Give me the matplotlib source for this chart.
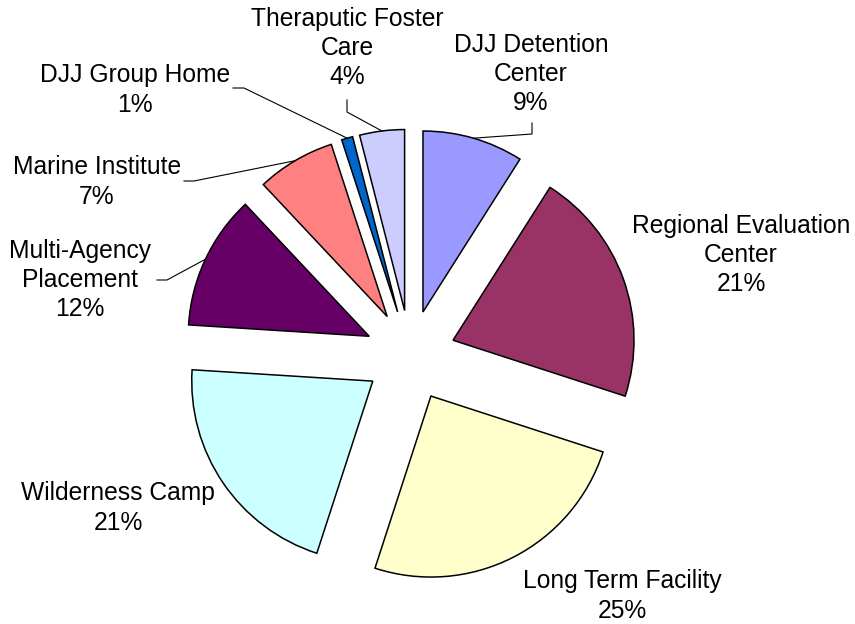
import matplotlib
matplotlib.use("Agg")
import matplotlib.pyplot as plt
import numpy as np

categories = ["DJJ Detention\nCenter", "Regional Evaluation\nCenter", "Long Term Facility",
              "Wilderness Camp", "Multi-Agency\nPlacement", "Marine Institute",
              "DJJ Group Home", "Theraputic Foster\nCare"]
values = [9, 21, 25, 21, 12, 7, 1, 4]
colors = ["#9999FF", "#993366", "#FFFFCC", "#CCFFFF", "#660066", "#FF8080", "#0066CC", "#CCCCFF"]

W, H = 855, 624
CX, CY, R = 410.3, 355.6, 181
EXPL = 45.4 / 181

plt.rcParams['font.family'] = ['Liberation Sans', 'DejaVu Sans']
fig = plt.figure(figsize=(W / 100, H / 100), dpi=100)
ax = fig.add_axes([0, 0, 1, 1])

wedges, _ = ax.pie(values, colors=colors, startangle=90, counterclock=False,
                   explode=[EXPL] * len(values), radius=1,
                   wedgeprops=dict(edgecolor='black', linewidth=1.1))
ax.set_aspect('auto')
ax.set_xlim(-CX / R, (W - CX) / R)
ax.set_ylim(-(H - CY) / R, CY / R)
ax.axis('off')

def P(x, y):
    return ((x - CX) / R, (CY - y) / R)

total = sum(values)
mids = []
a = 90.0
for v in values:
    span = 360.0 * v / total
    mids.append(np.deg2rad(a - span / 2))
    a -= span

def arc_pt(i):
    m = mids[i]
    return ((1 + EXPL) * np.cos(m), (1 + EXPL) * np.sin(m))

# label centre positions (pixel) and optional leader elbow points
labels = [
    (531, 74, [(532, 123), (532, 134)]),
    (741, 255, None),
    (622, 596, None),
    (118, 508, None),
    (80, 280, [(157, 280), (167, 280)]),
    (97, 182, [(184, 181), (194, 181)]),
    (135, 90, [(233, 88), (244, 88)]),
    (347, 48, [(347, 100), (347, 112)]),
]

fs = 17.7
for i, (lx, ly, leader) in enumerate(labels):
    txt = f"{categories[i]}\n{values[i]}%"
    x, y = P(lx, ly)
    ax.text(x, y, txt, ha='center', va='center', fontsize=fs, color='black',
            linespacing=1.27)
    if leader:
        pts = [P(*p) for p in leader] + [arc_pt(i)]
        xs, ys = zip(*pts)
        ax.plot(xs, ys, color='black', lw=0.8)

fig.savefig("out.png", dpi=100, facecolor='white')
